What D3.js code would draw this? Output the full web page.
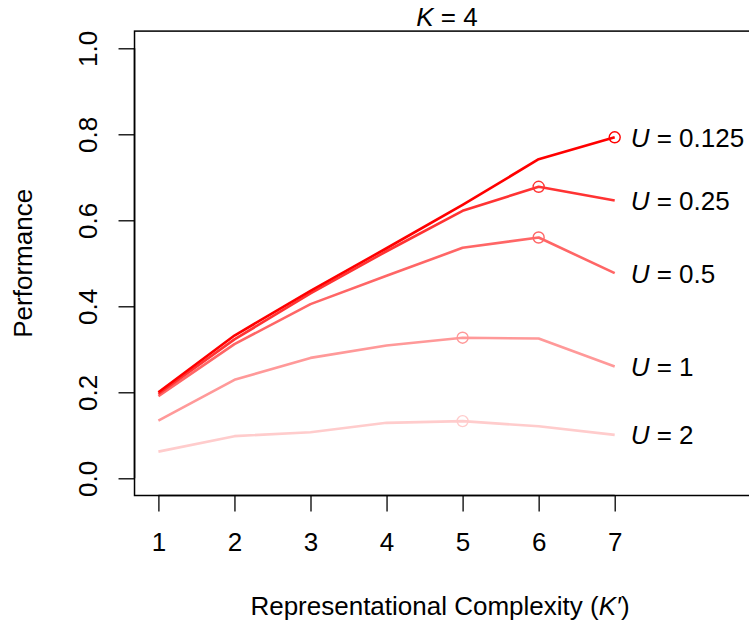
<!DOCTYPE html>
<html>
<head>
<meta charset="utf-8">
<script src="https://cdn.jsdelivr.net/npm/d3@7"></script>
<style>
  body { margin: 0; background: #fff; }
  svg text { font-family: "Liberation Sans", Arial, Helvetica, sans-serif; fill: #000; }
</style>
</head>
<body>
<svg></svg>
<script>
///////////////////////////////////////////
// Data
var complexity = [1, 2, 3, 4, 5, 6, 7];
var uLabels = ["0.125", "0.25", "0.5", "1", "2"];
var perfU0125 = [0.200, 0.332, 0.436, 0.535, 0.636, 0.742, 0.793];
var perfU025  = [0.196, 0.323, 0.430, 0.528, 0.622, 0.678, 0.646];
var perfU05   = [0.191, 0.312, 0.405, 0.471, 0.536, 0.560, 0.477];
var perfU1    = [0.134, 0.229, 0.280, 0.309, 0.327, 0.325, 0.260];
var perfU2    = [0.062, 0.098, 0.107, 0.129, 0.133, 0.121, 0.101];
var lineColors = ["#ff0000", "#ff3333", "#ff6666", "#ff9999", "#ffcccc"];
var yTicks = [0, 0.2, 0.4, 0.6, 0.8, 1.0];

var series = [perfU0125, perfU025, perfU05, perfU1, perfU2].map(function(v, i) {
  return { label: uLabels[i], values: v, color: lineColors[i] };
});

///////////////////////////////////////////
// Layout
var svgWidth = 749, svgHeight = 621;
var svg = d3.select("svg").attr("width", svgWidth).attr("height", svgHeight);

// plot region (R style, 4% padding on y)
var x = d3.scaleLinear().domain([1, 7]).range([158.4, 614.7]);
var y = d3.scaleLinear().domain([0, 1]).range([478.3, 48.3]);
var xlim = [0.686, 8.85], ylim = [-0.04, 1.04];
var fs = 26;

// box
svg.append("rect")
  .attr("x", x(xlim[0])).attr("y", y(ylim[1]))
  .attr("width", x(xlim[1]) - x(xlim[0]))
  .attr("height", y(ylim[0]) - y(ylim[1]))
  .attr("fill", "none").attr("stroke", "#000").attr("stroke-width", 1.5);

// axes
var tickLen = 16;
var xAxis = d3.axisBottom(x).tickValues(complexity).tickFormat(d3.format("d"))
  .tickSizeInner(tickLen).tickSizeOuter(0).tickPadding(24);
var gx = svg.append("g").attr("transform", "translate(0," + y(ylim[0]) + ")").call(xAxis);
gx.select(".domain").attr("d", "M" + x(1) + ",0H" + x(7)).attr("stroke-width", 1.5);
gx.selectAll(".tick line").attr("stroke-width", 1.3);
gx.selectAll(".tick text").attr("font-size", fs).attr("dy", "0.58em")
  .style("font-family", "'Liberation Sans', Arial, sans-serif");

var yAxis = d3.axisLeft(y).tickValues(yTicks).tickFormat(d3.format(".1f"))
  .tickSizeInner(tickLen).tickSizeOuter(0);
var gy = svg.append("g").attr("transform", "translate(" + x(xlim[0]) + ",0)").call(yAxis);
gy.select(".domain").attr("d", "M0," + y(0) + "V" + y(1)).attr("stroke-width", 1.5);
gy.selectAll(".tick line").attr("stroke-width", 1.3);
gy.selectAll(".tick text").remove();
gy.selectAll(".tick").append("text")
  .attr("transform", "translate(-47,0) rotate(-90)")
  .attr("text-anchor", "middle").attr("dy", "0.36em")
  .attr("font-size", fs).attr("fill", "#000")
  .style("font-family", "'Liberation Sans', Arial, sans-serif")
  .text(d3.format(".1f"));

///////////////////////////////////////////
// Lines, lightest first so the dark red ends on top
var line = d3.line().x(function(d, i) { return x(complexity[i]); }).y(function(d) { return y(d); });
var plotted = series.slice().reverse();

svg.selectAll("path.perf").data(plotted).enter().append("path")
  .attr("class", "perf")
  .attr("d", function(d) { return line(d.values); })
  .attr("fill", "none")
  .attr("stroke", function(d) { return d.color; })
  .attr("stroke-width", 2.6)
  .attr("stroke-linejoin", "round");

// circle at each series' best complexity
svg.selectAll("circle.peak").data(plotted).enter().append("circle")
  .attr("class", "peak")
  .attr("cx", function(d) { return x(complexity[d3.maxIndex(d.values)]); })
  .attr("cy", function(d) { return y(d3.max(d.values)); })
  .attr("r", 5.5)
  .attr("fill", "none")
  .attr("stroke", function(d) { return d.color; })
  .attr("stroke-width", 1.4);

// series labels at the end of each line
var lab = svg.selectAll("text.ulab").data(series).enter().append("text")
  .attr("class", "ulab")
  .attr("x", x(7) + 16)
  .attr("y", function(d) { return y(d.values[d.values.length - 1]); })
  .attr("dy", "0.36em")
  .attr("font-size", fs);
lab.append("tspan").attr("font-style", "italic").text("U");
lab.append("tspan").text(function(d) { return " = " + d.label; });

///////////////////////////////////////////
// Titles
var title = svg.append("text").attr("x", 447).attr("y", 26)
  .attr("text-anchor", "middle").attr("font-size", fs);
title.append("tspan").attr("font-style", "italic").text("K");
title.append("tspan").text(" = 4");

var xt = svg.append("text").attr("x", 440).attr("y", 615)
  .attr("text-anchor", "middle").attr("font-size", fs);
xt.append("tspan").text("Representational Complexity (");
xt.append("tspan").attr("font-style", "italic").text("K\u2032");
xt.append("tspan").text(")");

svg.append("text")
  .attr("transform", "translate(32," + ((y(ylim[0]) + y(ylim[1])) / 2) + ") rotate(-90)")
  .attr("text-anchor", "middle").attr("font-size", fs)
  .text("Performance");
</script>
</body>
</html>
